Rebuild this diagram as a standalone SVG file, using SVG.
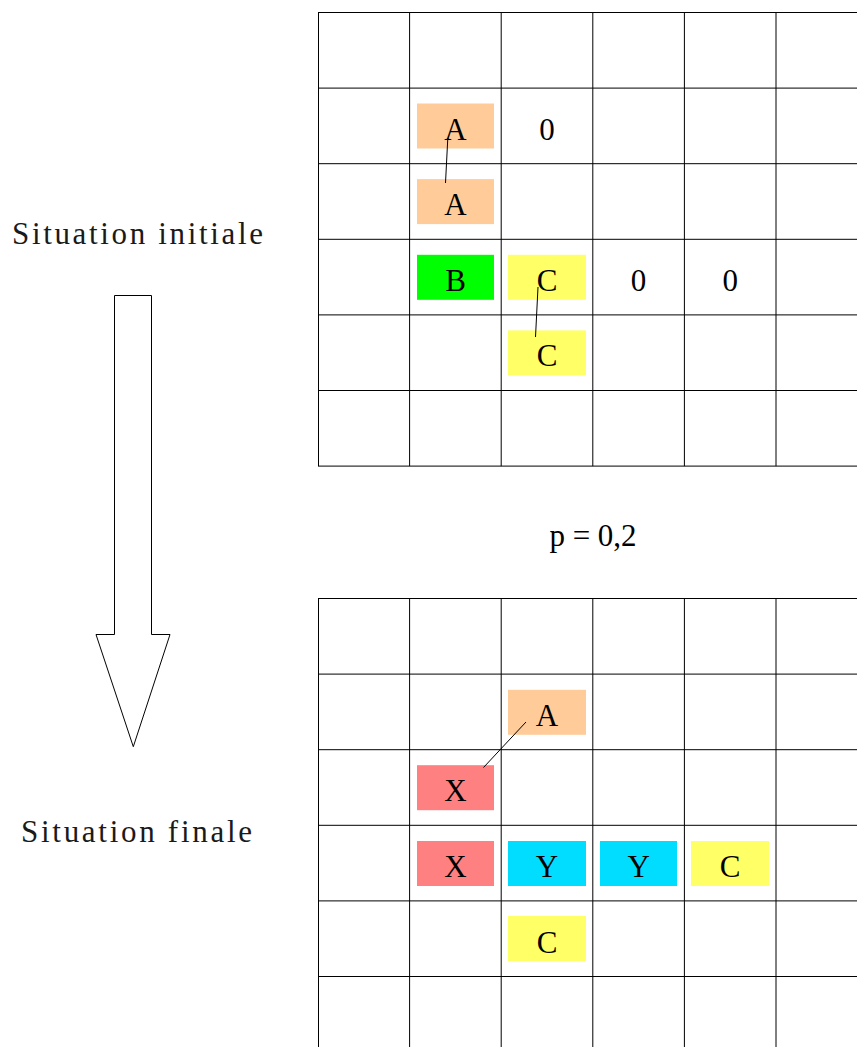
<svg xmlns="http://www.w3.org/2000/svg" width="857" height="1047" viewBox="0 0 857 1047">
  <style>
    .grid line { stroke: #000; stroke-width: 1; }
    .lbl { font-family: "Liberation Serif", "Times New Roman", serif; font-size: 31px; fill: #000; text-anchor: middle; }
    .side { font-family: "Liberation Serif", "Times New Roman", serif; font-size: 31px; fill: #1a1a1a; }
    .orange { fill: #FFCC99; }
    .green { fill: #00FF00; }
    .yellow { fill: #FFFF66; }
    .red { fill: #FF8080; }
    .cyan { fill: #00DDFF; }
    .conn line { stroke: #000; stroke-width: 1; }
  </style>
  <rect width="857" height="1047" fill="#fff"/>

  <!-- top grid: initial state -->
  <g id="grid-initial" class="grid">
    <line x1="318" y1="12.5" x2="857" y2="12.5"/>
    <line x1="318" y1="88.1" x2="857" y2="88.1"/>
    <line x1="318" y1="163.7" x2="857" y2="163.7"/>
    <line x1="318" y1="239.3" x2="857" y2="239.3"/>
    <line x1="318" y1="314.9" x2="857" y2="314.9"/>
    <line x1="318" y1="390.5" x2="857" y2="390.5"/>
    <line x1="318" y1="466.1" x2="857" y2="466.1"/>
    <line x1="318.5" y1="12.5" x2="318.5" y2="466.1"/>
    <line x1="409.6" y1="12.5" x2="409.6" y2="466.1"/>
    <line x1="501.2" y1="12.5" x2="501.2" y2="466.1"/>
    <line x1="592.8" y1="12.5" x2="592.8" y2="466.1"/>
    <line x1="684.4" y1="12.5" x2="684.4" y2="466.1"/>
    <line x1="776" y1="12.5" x2="776" y2="466.1"/>
  </g>

  <!-- bottom grid: final state -->
  <g id="grid-final" class="grid">
    <line x1="318" y1="598.5" x2="857" y2="598.5"/>
    <line x1="318" y1="674.1" x2="857" y2="674.1"/>
    <line x1="318" y1="749.7" x2="857" y2="749.7"/>
    <line x1="318" y1="825.3" x2="857" y2="825.3"/>
    <line x1="318" y1="900.9" x2="857" y2="900.9"/>
    <line x1="318" y1="976.5" x2="857" y2="976.5"/>
    <line x1="318.5" y1="598.5" x2="318.5" y2="1047"/>
    <line x1="409.6" y1="598.5" x2="409.6" y2="1047"/>
    <line x1="501.2" y1="598.5" x2="501.2" y2="1047"/>
    <line x1="592.8" y1="598.5" x2="592.8" y2="1047"/>
    <line x1="684.4" y1="598.5" x2="684.4" y2="1047"/>
    <line x1="776" y1="598.5" x2="776" y2="1047"/>
  </g>

  <!-- side captions and transition arrow -->
  <text id="caption-initial" class="side" x="12" y="244" textLength="251" lengthAdjust="spacing">Situation initiale</text>
  <text id="caption-final" class="side" x="21" y="841.5" textLength="231" lengthAdjust="spacing">Situation finale</text>
  <g id="arrow-down">
    <path d="M114.5,295.5 H151.5 V634.5 H170 L133.3,746.7 L96,634.5 H114.5 Z" fill="#fff" stroke="#000" stroke-width="1"/>
  </g>
  <text id="parameter" class="lbl" x="593" y="546">p = 0,2</text>

  <!-- initial state cells -->
  <g id="init-A1"><rect class="orange" x="417" y="103.5" width="77" height="45"/><text class="lbl" x="455.5" y="139.5">A</text></g>
  <g id="init-zero1"><text class="lbl" x="547" y="140">0</text></g>
  <g id="init-A2"><rect class="orange" x="417" y="179.1" width="77" height="45"/><text class="lbl" x="455.5" y="215.1">A</text></g>
  <g id="init-B"><rect class="green" x="417" y="254.8" width="77" height="45"/><text class="lbl" x="455.5" y="290.7">B</text></g>
  <g id="init-C1"><rect class="yellow" x="508" y="254.8" width="78" height="45"/><text class="lbl" x="547" y="290.7">C</text></g>
  <g id="init-zero2"><text class="lbl" x="638.6" y="291">0</text></g>
  <g id="init-zero3"><text class="lbl" x="730.2" y="291">0</text></g>
  <g id="init-C2"><rect class="yellow" x="508" y="330.4" width="78" height="45"/><text class="lbl" x="547" y="366.3">C</text></g>

  <!-- final state cells -->
  <g id="final-A"><rect class="orange" x="508" y="689.8" width="78" height="45"/><text class="lbl" x="547" y="725.7">A</text></g>
  <g id="final-X1"><rect class="red" x="417" y="765.2" width="77" height="45"/><text class="lbl" x="455.5" y="801.3">X</text></g>
  <g id="final-X2"><rect class="red" x="417" y="841" width="77" height="45"/><text class="lbl" x="455.5" y="876.9">X</text></g>
  <g id="final-Y1"><rect class="cyan" x="508" y="841" width="78" height="45"/><text class="lbl" x="547" y="876.9">Y</text></g>
  <g id="final-Y2"><rect class="cyan" x="600" y="841" width="77" height="45"/><text class="lbl" x="638.6" y="876.9">Y</text></g>
  <g id="final-C1"><rect class="yellow" x="691" y="841" width="78" height="45"/><text class="lbl" x="730.2" y="876.9">C</text></g>
  <g id="final-C2"><rect class="yellow" x="508" y="916" width="78" height="45"/><text class="lbl" x="547" y="952.5">C</text></g>

  <!-- bonds between cells -->
  <g id="connectors" class="conn">
    <line x1="447.8" y1="138" x2="445.5" y2="183"/>
    <line x1="538" y1="287" x2="535.5" y2="337"/>
    <line x1="526" y1="722" x2="483.5" y2="767.5"/>
  </g>
</svg>
